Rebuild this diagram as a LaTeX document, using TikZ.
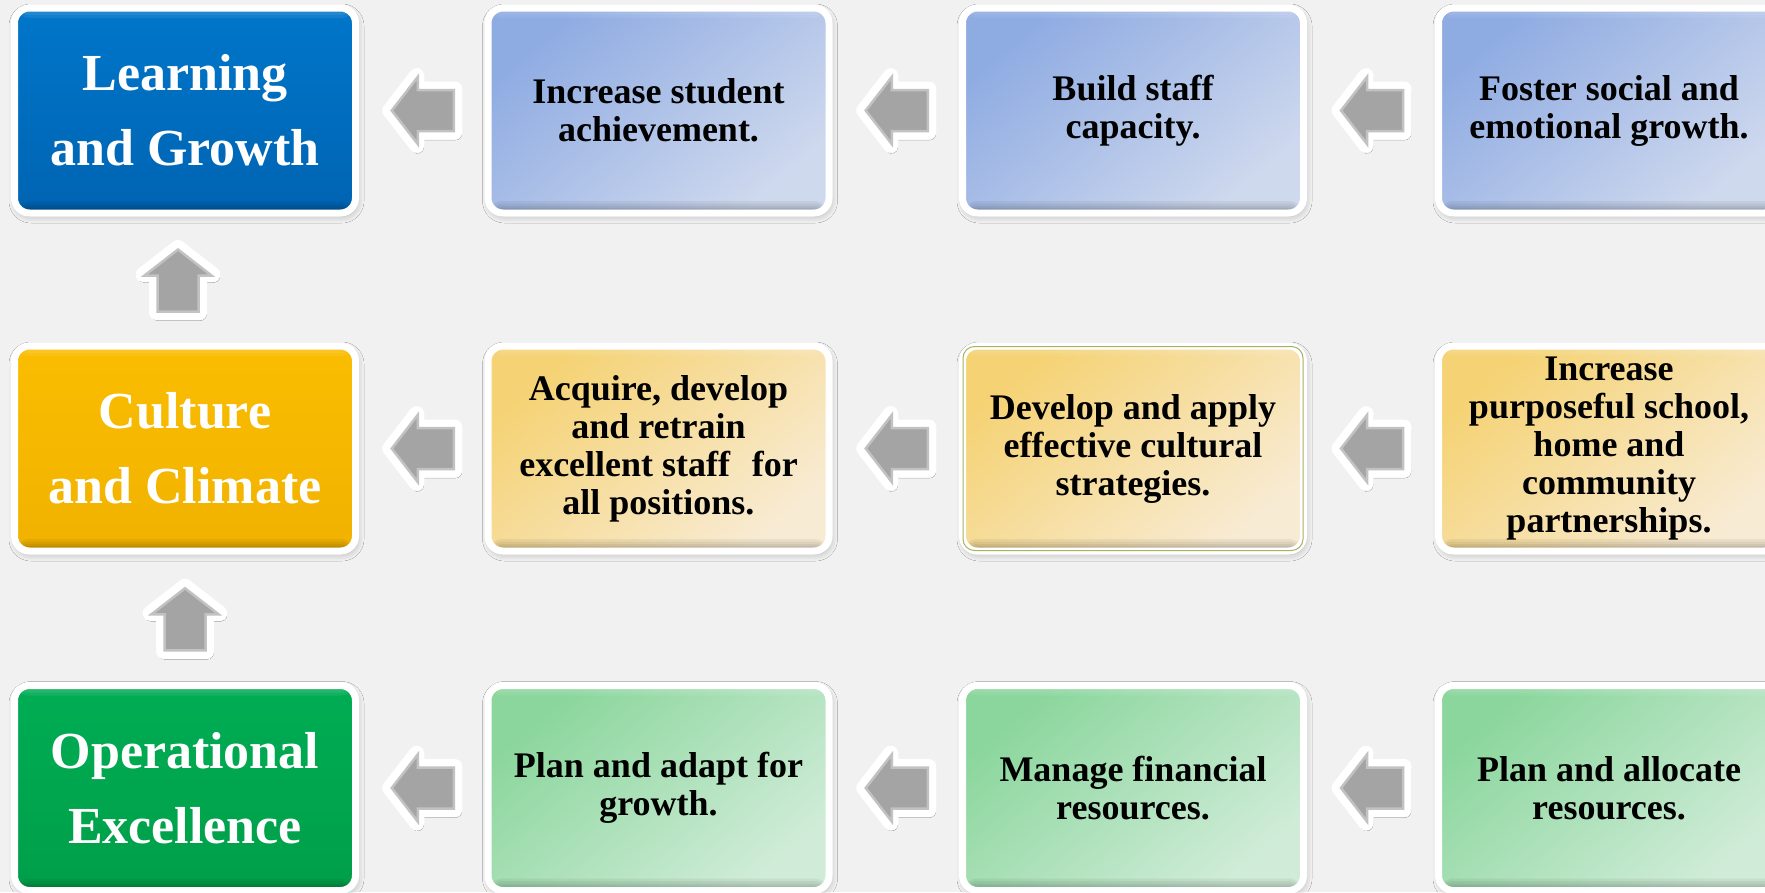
\documentclass[tikz,border=0pt]{standalone}
\usepackage{fontspec}
\setmainfont{Liberation Serif}
\usetikzlibrary{calc,shadows.blur}

\definecolor{bgc}{HTML}{F1F1F1}
\definecolor{mainblueT}{HTML}{0076CA}
\definecolor{mainblueB}{HTML}{0064B2}
\definecolor{mainyelT}{HTML}{FABD00}
\definecolor{mainyelB}{HTML}{F1B200}
\definecolor{maingrnT}{HTML}{00AD54}
\definecolor{maingrnB}{HTML}{009F49}
\definecolor{lbA}{HTML}{8EABE2}
\definecolor{lbB}{HTML}{CFD9EE}
\definecolor{lyA}{HTML}{F5D273}
\definecolor{lyB}{HTML}{F8EBD3}
\definecolor{lgA}{HTML}{8AD69C}
\definecolor{lgB}{HTML}{D0ECD8}
\definecolor{arrowgray}{HTML}{A4A4A4}
\definecolor{arrowedge}{HTML}{C2C2C2}
\definecolor{olivebd}{HTML}{A9B25E}

\tikzset{
  box/.style={rounded corners=15pt, minimum width=341pt, minimum height=205pt,
    inner sep=0pt, draw=white, line width=7pt, align=center, text=black,
    font=\bfseries\fontsize{36}{38}\selectfont,
    blur shadow={shadow xshift=1.5pt, shadow yshift=-3pt, shadow blur radius=7pt, shadow opacity=28},
    path picture={
      \foreach \h in {12,9.5,7,5} {
        \fill[black,opacity=0.055] ([yshift=-1pt]path picture bounding box.south west)
          rectangle ([yshift=\h pt]path picture bounding box.south east);
      }
      \foreach \h in {10,7} {
        \fill[white,opacity=0.07] ([yshift=1pt]path picture bounding box.north west)
          rectangle ([yshift=-\h pt]path picture bounding box.north east);
      }
    }},
  mainbox/.style={box, text=white, font=\bfseries\fontsize{52}{75}\selectfont},
  mblue/.style={top color=mainblueT, bottom color=mainblueB},
  myel/.style={top color=mainyelT, bottom color=mainyelB},
  mgrn/.style={top color=maingrnT, bottom color=maingrnB},
  lblue/.style={top color=lbA, bottom color=lbB, shading angle=40},
  lyel/.style={top color=lyA, bottom color=lyB, shading angle=40},
  lgrn/.style={top color=lgA, bottom color=lgB, shading angle=40},
  blockarrow/.pic={
    \path[fill=white, draw=white, line width=15pt, line join=round,
      blur shadow={shadow xshift=1pt, shadow yshift=-2pt, shadow blur radius=6pt, shadow opacity=22}]
      (-32,0) -- (-5,35) -- (-5,21.5) -- (33,21.5) -- (33,-21.5) -- (-5,-21.5) -- (-5,-35) -- cycle;
    \path[fill=arrowgray, draw=arrowedge, line width=2.5pt, line join=miter]
      (-30,0) -- (-4,33.5) -- (-4,20.5) -- (32,20.5) -- (32,-20.5) -- (-4,-20.5) -- (-4,-33.5) -- cycle;
  }
}

\begin{document}
\begin{tikzpicture}[x=1pt,y=1pt]
\useasboundingbox (0,0) rectangle (1765,-892);
\clip (0,0) rectangle (1765,-892);
\fill[bgc] (0,0) rectangle (1765,-892);

% row 0
\node[mainbox,mblue] (b00) at (185,-110.5) {Learning\\and Growth};
\node[box,lblue] (b01) at (658.5,-110.5) {Increase student\\achievement.};
\node[box,lblue] (b02) at (1133,-110.5) {Build staff\\capacity.};
\node[box,lblue] (b03) at (1609,-110.5) {Foster social and\\emotional growth.};

% row 1
\node[mainbox,myel] (b10) at (185,-448.5) {Culture\\and Climate};
\node[box,lyel] (b11) at (658.5,-448.5) {Acquire, develop\\and retrain\\excellent staff\hspace{0.35em} for\\all positions.};
\node[box,lyel] (b12) at (1133,-448.5) {Develop and apply\\effective cultural\\strategies.};
\node[box,lyel] (b13) at (1609,-448.5) {Increase\\purposeful school,\\home and\\community\\partnerships.};
\draw[olivebd, line width=1pt, rounded corners=11.5pt]
  ($(b12.south west)+(4,4)$) rectangle ($(b12.north east)+(-4,-4)$);

% row 2
\node[mainbox,mgrn] (b20) at (185,-788) {Operational\\Excellence};
\node[box,lgrn] (b21) at (658.5,-788) {Plan and adapt for\\growth.};
\node[box,lgrn] (b22) at (1133,-788) {Manage financial\\resources.};
\node[box,lgrn] (b23) at (1609,-788) {Plan and allocate\\resources.};

% horizontal block arrows (pointing left)
\foreach \r in {0,1,2}{
  \pic at ($(b\r0.east)!0.5!(b\r1.west)$) {blockarrow};
  \pic at ($(b\r1.east)!0.5!(b\r2.west)$) {blockarrow};
  \pic at ($(b\r2.east)!0.5!(b\r3.west)$) {blockarrow};
}

% vertical block arrows (pointing up)
\pic[rotate=-90] at ($($(b10.north)!0.5!(b00.south)$)+(-7,0)$) {blockarrow};
\pic[rotate=-90] at ($(b20.north)!0.5!(b10.south)$) {blockarrow};
\end{tikzpicture}
\end{document}
